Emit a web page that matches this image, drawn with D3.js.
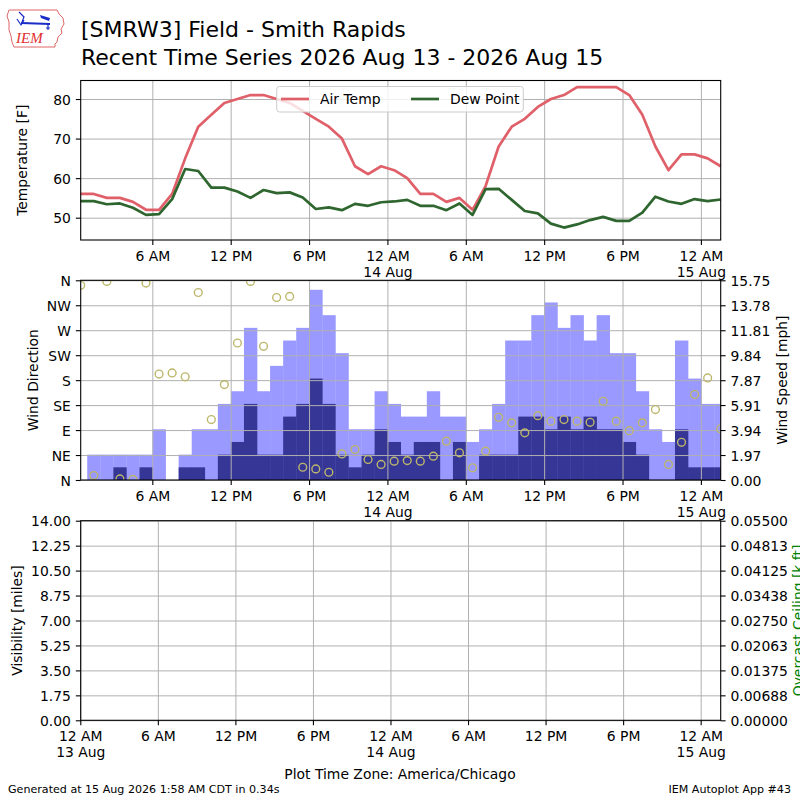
<!DOCTYPE html>
<html>
<head>
<meta charset="utf-8">
<script src="https://d3js.org/d3.v7.min.js"></script>
<style>
  body { margin: 0; background: #fff; }
  svg { font-family: "DejaVu Sans", sans-serif; }
  .domain { display: none; }
  .tick line { stroke: #000; stroke-width: 1.1; }
  .grid line { stroke: #b0b0b0; stroke-width: 1; }
  .grid .domain, .grid text { display: none; }
</style>
</head>
<body>
<svg width="800" height="800"></svg>
<script>
// hourly obs, 13 Aug 00:31 -> 15 Aug 01:31 (local)
const obsStart = new Date(2026, 7, 13, 0, 31);

const airTemp = [56, 56, 55, 55, 54, 52, 52, 56, 65, 73, 76, 79, 80, 81, 81, 80, 79, 77, 75, 73,
  70, 63, 61, 63, 62, 60, 56, 56, 54, 55, 52, 58, 68, 73, 75, 78, 80, 81, 83, 83,
  83, 83, 81, 76, 68, 62, 66, 66, 65, 63];
const dewPoint = [54.2, 54.2, 53.4, 53.6, 52.5, 50.7, 50.9, 54.7, 62.3, 61.8, 57.6, 57.6, 56.6, 55.0, 57.0,
  56.2, 56.4, 55.1, 52.2, 52.6, 51.9, 53.5, 53.0, 53.9, 54.1, 54.5, 53.0, 53.0, 51.9, 53.6,
  50.7, 57.2, 57.3, 54.5, 51.7, 51.1, 48.5, 47.5, 48.3, 49.4, 50.2, 49.2, 49.2, 51.3, 55.3,
  54.1, 53.5, 54.7, 54.2, 54.6];
const windGust = [0, 2, 2, 2, 2, 2, 4, 0, 2, 4, 4, 6, 7, 12, 7, 9, 11, 12, 15, 13,
  10, 4, 4, 7, 6, 5, 5, 7, 5, 5, 3, 4, 6, 11, 11, 13, 14, 12, 13, 11,
  13, 10, 10, 7, 4, 3, 11, 8, 6, 6];
const windSpeed = [0, 0, 0, 1, 0, 1, 0, 0, 1, 1, 0, 2, 3, 6, 2, 2, 5, 6, 8, 6,
  2, 1, 2, 4, 3, 2, 3, 3, 0, 3, 0, 2, 2, 2, 5, 5, 4, 5, 4, 5,
  4, 4, 3, 2, 0, 0, 4, 1, 1, 1];
const windDir = [351, 8, 358, 2, 1, 355, 191, 193, 186, 338, 109, 172, 247, 358, 241, 329, 331, 23, 20, 14,
  47, 55, 37, 28, 34, 35, 34, 43, 70, 49, 22, 52, 113, 103, 85, 116, 106, 109, 106, 104,
  142, 106, 89, 103, 127, 28, 68, 154, 184, 92];

const tempTicks = [50, 60, 70, 80];
const dirTicks = [0, 45, 90, 135, 180, 225, 270, 315, 360];
const dirLabels = ['N', 'NE', 'E', 'SE', 'S', 'SW', 'W', 'NW', 'N'];
const speedLabels = ['0.00', '1.97', '3.94', '5.91', '7.87', '9.84', '11.81', '13.78', '15.75'];
const visLabels = ['0.00', '1.75', '3.50', '5.25', '7.00', '8.75', '10.50', '12.25', '14.00'];
const ceilLabels = ['0.00000', '0.00688', '0.01375', '0.02063', '0.02750', '0.03438', '0.04125', '0.04813', '0.05500'];

const obsTimes = airTemp.map((d, i) => d3.timeHour.offset(obsStart, i));

const svg = d3.select('svg');
const FS = 13.9;
const left = 80.7, right = 720.7;
const P1 = { top: 80.5, bottom: 240 };
const P2 = { top: 280.3, bottom: 480 };
const P3 = { top: 520.7, bottom: 720.3 };

// time scales
const xScale = d3.scaleTime()
  .domain([obsTimes[0], obsTimes[obsTimes.length - 1]])
  .range([left, right]);
const xScale3 = d3.scaleTime()
  .domain([new Date(2026, 7, 13, 0, 0), new Date(2026, 7, 15, 1, 33)])
  .range([80.3, right]);

const hourFmt = d3.timeFormat('%-I %p');
const dayFmt = d3.timeFormat('%-d %b');

function drawXAxis(scale, P) {
  const ticks = d3.timeHour.every(6).range(scale.domain()[0], d3.timeMinute.offset(scale.domain()[1], 1));
  // vertical grid
  svg.append('g').attr('class', 'grid')
    .attr('transform', `translate(0,${P.bottom})`)
    .call(d3.axisBottom(scale).tickValues(ticks).tickSize(-(P.bottom - P.top)).tickFormat(''));
  const g = svg.append('g')
    .attr('transform', `translate(0,${P.bottom})`)
    .call(d3.axisBottom(scale).tickValues(ticks).tickSize(4.9).tickPadding(4.9).tickFormat(hourFmt));
  g.selectAll('text')
    .attr('font-size', FS).attr('fill', '#000')
    .attr('dy', '0.8em')
    .each(function (d) {
      if (d.getHours() === 0) {
        d3.select(this).append('tspan').attr('x', 0).attr('dy', '1.15em').text(dayFmt(d));
      }
    });
  g.attr('font-family', null);
}

function drawYGrid(scale, ticks) {
  svg.append('g').attr('class', 'grid')
    .attr('transform', `translate(${left},0)`)
    .call(d3.axisLeft(scale).tickValues(ticks).tickSize(-(right - left)).tickFormat(''));
}

function drawYAxis(scale, ticks, labels, side) {
  const ax = side === 'left' ? d3.axisLeft(scale) : d3.axisRight(scale);
  const g = svg.append('g')
    .attr('transform', `translate(${side === 'left' ? left : right},0)`)
    .call(ax.tickValues(ticks).tickSize(4.9).tickPadding(4.9).tickFormat((d, i) => labels[i]));
  g.attr('font-family', null);
  g.selectAll('text').attr('font-size', FS).attr('fill', '#000').attr('dy', '0.36em');
}

function frame(P) {
  svg.append('rect')
    .attr('x', left).attr('y', P.top)
    .attr('width', right - left).attr('height', P.bottom - P.top)
    .attr('fill', 'none').attr('stroke', '#000').attr('stroke-width', 1.1);
}

function yLabel(text, x, yc, color) {
  svg.append('text')
    .attr('transform', `translate(${x},${yc}) rotate(-90)`)
    .attr('text-anchor', 'middle')
    .attr('font-size', FS)
    .attr('fill', color || '#000')
    .text(text);
}

function clip(id, P) {
  svg.append('clipPath').attr('id', id)
    .append('rect').attr('x', left).attr('y', P.top)
    .attr('width', right - left).attr('height', P.bottom - P.top);
}

// ---------- panel 1: temperature ----------
const yTemp = d3.scaleLinear().domain([44.36, 84.68]).range([P1.bottom, P1.top]);
drawYGrid(yTemp, tempTicks);
drawXAxis(xScale, P1);
drawYAxis(yTemp, tempTicks, tempTicks.map(String), 'left');

const line = d3.line().x((d, i) => xScale(obsTimes[i])).y(d => yTemp(d));
svg.append('path').datum(airTemp)
  .attr('d', line).attr('fill', 'none')
  .attr('stroke', '#e0606a').attr('stroke-width', 2.7).attr('stroke-linejoin', 'round');
svg.append('path').datum(dewPoint)
  .attr('d', line).attr('fill', 'none')
  .attr('stroke', '#2f662f').attr('stroke-width', 2.7).attr('stroke-linejoin', 'round');
frame(P1);
yLabel('Temperature [F]', 27, (P1.top + P1.bottom) / 2);

// legend
const leg = svg.append('g');
leg.append('rect').attr('x', 276.7).attr('y', 86.5).attr('width', 246.6).attr('height', 25.5)
  .attr('rx', 3).attr('fill', '#fff').attr('fill-opacity', 0.8)
  .attr('stroke', '#cccccc').attr('stroke-width', 1);
[['Air Temp', '#e0606a', 281], ['Dew Point', '#2f662f', 411]].forEach(([name, c, x]) => {
  leg.append('line').attr('x1', x).attr('x2', x + 28).attr('y1', 99).attr('y2', 99)
    .attr('stroke', c).attr('stroke-width', 2.7);
  leg.append('text').attr('x', x + 39).attr('y', 104).attr('font-size', FS).text(name);
});

// ---------- panel 2: wind ----------
clip('clip2', P2);
const ySpeed = d3.scaleLinear().domain([0, 15.75]).range([P2.bottom, P2.top]);
const yDir = d3.scaleLinear().domain([0, 360]).range([P2.bottom, P2.top]);
const bars = svg.append('g').attr('clip-path', 'url(#clip2)');
const barX = t => xScale(d3.timeMinute.offset(t, -30));
const barW = t => xScale(d3.timeMinute.offset(t, 30)) - xScale(d3.timeMinute.offset(t, -30));
bars.selectAll('rect.gust').data(windGust).enter().append('rect')
  .attr('x', (d, i) => barX(obsTimes[i])).attr('width', (d, i) => barW(obsTimes[i]) + 0.3)
  .attr('y', d => ySpeed(d)).attr('height', d => ySpeed(0) - ySpeed(d))
  .attr('fill', '#9999ff');
bars.selectAll('rect.speed').data(windSpeed).enter().append('rect')
  .attr('x', (d, i) => barX(obsTimes[i])).attr('width', (d, i) => barW(obsTimes[i]) + 0.3)
  .attr('y', d => ySpeed(d)).attr('height', d => ySpeed(0) - ySpeed(d))
  .attr('fill', '#363696');
drawYGrid(yDir, dirTicks);
drawXAxis(xScale, P2);
drawYAxis(yDir, dirTicks, dirLabels, 'left');
drawYAxis(ySpeed, speedLabels.map(Number), speedLabels, 'right');
svg.append('g').attr('clip-path', 'url(#clip2)')
  .selectAll('circle').data(windDir).enter().append('circle')
  .attr('cx', (d, i) => xScale(obsTimes[i])).attr('cy', d => yDir(d))
  .attr('r', 3.9).attr('fill', 'none').attr('stroke', '#bdb76b').attr('stroke-width', 1.4);
frame(P2);
yLabel('Wind Direction', 38, (P2.top + P2.bottom) / 2);
yLabel('Wind Speed [mph]', 787, (P2.top + P2.bottom) / 2);

// ---------- panel 3: visibility / ceiling (no data) ----------
const yVis = d3.scaleLinear().domain([0, 14]).range([P3.bottom, P3.top]);
const yCeil = d3.scaleLinear().domain([0, 0.055]).range([P3.bottom, P3.top]);
drawYGrid(yVis, visLabels.map(Number));
drawXAxis(xScale3, P3);
drawYAxis(yVis, visLabels.map(Number), visLabels, 'left');
drawYAxis(yCeil, ceilLabels.map(Number), ceilLabels, 'right');
frame(P3);
yLabel('Visibility [miles]', 22, (P3.top + P3.bottom) / 2);
// label runs past the page edge, as in the original
yLabel('Overcast Ceiling [k ft]', 803, (P3.top + P3.bottom) / 2, '#008000');

// ---------- titles and footer ----------
svg.append('text').attr('x', 81).attr('y', 36.7).attr('font-size', 22)
  .text('[SMRW3] Field - Smith Rapids');
svg.append('text').attr('x', 81).attr('y', 65).attr('font-size', 22)
  .text('Recent Time Series 2026 Aug 13 - 2026 Aug 15');
svg.append('text').attr('x', 400).attr('y', 778.5).attr('text-anchor', 'middle').attr('font-size', FS)
  .text('Plot Time Zone: America/Chicago');
svg.append('text').attr('x', 8).attr('y', 793).attr('font-size', 11.1)
  .text('Generated at 15 Aug 2026 1:58 AM CDT in 0.34s');
svg.append('text').attr('x', 791).attr('y', 793).attr('text-anchor', 'end').attr('font-size', 11.1)
  .text('IEM Autoplot App #43');

// ---------- IEM logo ----------
const logo = svg.append('g');
logo.append('path')
  .attr('d', 'M9,10 L57,10 L59,14 L63,18 L64,24 L61,29 L62,33 L58,37 L57,42 L55,44 L55,47 L14,47 L12,42 L11,36 L9,30 L9,22 L7,16 Z')
  .attr('fill', 'none').attr('stroke', '#e06666').attr('stroke-width', 1);
logo.append('line').attr('x1', 21).attr('y1', 23).attr('x2', 50).attr('y2', 24)
  .attr('stroke', '#1a2cc8').attr('stroke-width', 2);
logo.append('path').attr('d', 'M40,15 L50,18 L49,21 L41,18 Z').attr('fill', '#1a2cc8');
logo.append('path').attr('d', 'M19,12 L24,17 L22,22 M17,19 L21,25 L24,20')
  .attr('fill', 'none').attr('stroke', '#1a2cc8').attr('stroke-width', 1.2);
logo.append('path').attr('d', 'M48,24 L48,30 M46,28 L50,28').attr('stroke', '#1a2cc8').attr('stroke-width', 1.2);
logo.append('text').attr('x', 16).attr('y', 43).attr('font-size', 15)
  .attr('font-family', '"Liberation Serif", serif').attr('font-style', 'italic')
  .attr('fill', '#e03030').text('IEM');
</script>
</body>
</html>
